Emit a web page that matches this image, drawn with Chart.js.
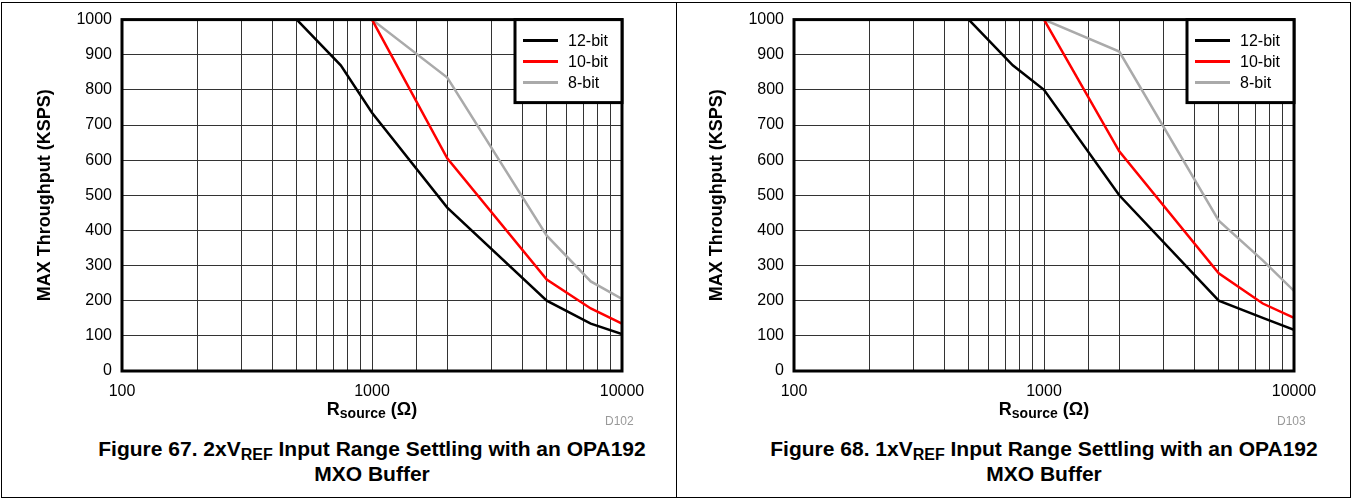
<!DOCTYPE html>
<html>
<head>
<meta charset="utf-8">
<script src="https://cdn.jsdelivr.net/npm/chart.js@4.4.1/dist/chart.umd.min.js"></script>
<style>
  body { margin: 0; background: #fff; font-family: Arial, "Liberation Sans", sans-serif; }
  #frame { position: absolute; left: 1px; top: 2px; width: 1348px; height: 494px; border: 1px solid #000; }
  #divider { position: absolute; left: 676px; top: 2px; width: 1px; height: 496px; background: #000; }
  .panel { position: absolute; top: 0; width: 676px; height: 400px; }
  .xtitle { position: absolute; width: 300px; text-align: center; font-weight: bold; font-size: 18px; line-height: 20px; top: 399px; }
  .xtitle .sub { font-size: 14px; position: relative; top: 3px; }
  .code { position: absolute; top: 414px; font-size: 12px; color: #999; }
  .caption { position: absolute; width: 680px; text-align: center; font-weight: bold; font-size: 21px; line-height: 23px; top: 437px; }
  .caption .sub { font-size: 16px; position: relative; top: 4px; }
</style>
</head>
<body>
<div id="frame"></div>
<div id="divider"></div>

<div class="panel" style="left:0px"><canvas id="fig67" width="676" height="400"></canvas></div>
<div class="panel" style="left:672px"><canvas id="fig68" width="676" height="400"></canvas></div>

<div class="xtitle" style="left:222px">R<span class="sub">source</span> (&Omega;)</div>
<div class="code" style="left:605px">D102</div>
<div class="caption" style="left:32px">Figure 67. 2xV<span class="sub">REF</span> Input Range Settling with an OPA192<br>MXO Buffer</div>

<div class="xtitle" style="left:894px">R<span class="sub">source</span> (&Omega;)</div>
<div class="code" style="left:1277px">D103</div>
<div class="caption" style="left:704px">Figure 68. 1xV<span class="sub">REF</span> Input Range Settling with an OPA192<br>MXO Buffer</div>

<script>
  // source resistance (ohm) at which throughput was read
  const rSource = [500, 750, 1000, 2000, 5000, 7500, 10000];

  // Figure 67, 2xVREF range (KSPS)
  const fig67Bit12 = [1000, 870, 735, 465, 200, 135, 105];
  const fig67Bit10 = [null, null, 1000, 605, 260, 178, 135];
  const fig67Bit8 = [null, null, 1000, 835, 385, 255, 205];

  // Figure 68, 1xVREF range (KSPS)
  const fig68Bit12 = [1000, 870, 800, 500, 200, 151, 117];
  const fig68Bit10 = [null, null, 1000, 625, 278, 192, 151];
  const fig68Bit8 = [null, null, 1000, 909, 428, 315, 228];

  const seriesNames = ['12-bit', '10-bit', '8-bit'];
  const seriesColors = ['#000000', '#ff0000', '#aaaaaa'];
  const xLabels = [100, 1000, 10000];

  Chart.defaults.font.family = 'Arial, "Liberation Sans", sans-serif';
  Chart.defaults.color = '#000';

  function toPoints(values) {
    return rSource.map((r, i) => ({x: r, y: values[i]}));
  }

  // thick black frame round the plot area
  const plotFrame = {
    id: 'plotFrame',
    afterDraw(chart) {
      const {ctx, chartArea: a} = chart;
      ctx.save();
      ctx.lineWidth = 3;
      ctx.strokeStyle = '#000';
      ctx.strokeRect(a.left, a.top, a.right - a.left, a.bottom - a.top);
      ctx.restore();
    }
  };

  // boxed legend in the top right corner
  const boxLegend = {
    id: 'boxLegend',
    afterDraw(chart) {
      const {ctx, chartArea: a} = chart;
      const w = 107, h = 83;
      const x0 = a.right - w, y0 = a.top;
      ctx.save();
      ctx.fillStyle = '#fff';
      ctx.fillRect(x0, y0, w, h);
      ctx.lineWidth = 3;
      ctx.strokeStyle = '#000';
      ctx.strokeRect(x0, y0, w, h);
      chart.data.datasets.forEach((ds, i) => {
        const y = y0 + 21 + i * 21;
        ctx.strokeStyle = ds.borderColor;
        ctx.lineWidth = 3;
        ctx.beginPath();
        ctx.moveTo(x0 + 8, y);
        ctx.lineTo(x0 + 43, y);
        ctx.stroke();
        ctx.fillStyle = '#000';
        ctx.font = '16px Arial, "Liberation Sans", sans-serif';
        ctx.textBaseline = 'middle';
        ctx.fillText(ds.label, x0 + 53, y + 1);
      });
      ctx.restore();
    }
  };

  function makeChart(id, b12, b10, b8) {
    const values = [b12, b10, b8];
    new Chart(id, {
      type: 'line',
      data: {
        datasets: values.map((v, i) => ({
          label: seriesNames[i],
          data: toPoints(v),
          borderColor: seriesColors[i],
          backgroundColor: seriesColors[i],
          borderWidth: 2.5,
          pointRadius: 0,
          tension: 0,
          fill: false
        }))
      },
      options: {
        responsive: false,
        animation: false,
        layout: {padding: {left: 0, right: 54, top: 17, bottom: 0}},
        plugins: {
          legend: {display: false},
          tooltip: {enabled: false}
        },
        scales: {
          x: {
            type: 'logarithmic',
            min: 100,
            max: 10000,
            afterFit(scale) { scale.height = 29; },
            border: {display: false},
            grid: {color: '#333', lineWidth: 1, drawTicks: false},
            ticks: {
              autoSkip: false,
              maxRotation: 0,
              padding: 11,
              font: {size: 16},
              callback: (v) => xLabels.includes(v) ? String(v) : ''
            }
          },
          y: {
            min: 0,
            max: 1000,
            afterFit(scale) { scale.width = 122; },
            border: {display: false},
            grid: {color: '#333', lineWidth: 1, drawTicks: false},
            ticks: {stepSize: 100, padding: 10, font: {size: 16}, callback: (v) => String(v)},
            title: {
              display: true,
              text: 'MAX Throughput (KSPS)',
              font: {size: 18, weight: 'bold'},
              padding: {top: 34, bottom: 0}
            }
          }
        }
      },
      plugins: [plotFrame, boxLegend]
    });
  }

  makeChart('fig67', fig67Bit12, fig67Bit10, fig67Bit8);
  makeChart('fig68', fig68Bit12, fig68Bit10, fig68Bit8);
</script>
</body>
</html>
